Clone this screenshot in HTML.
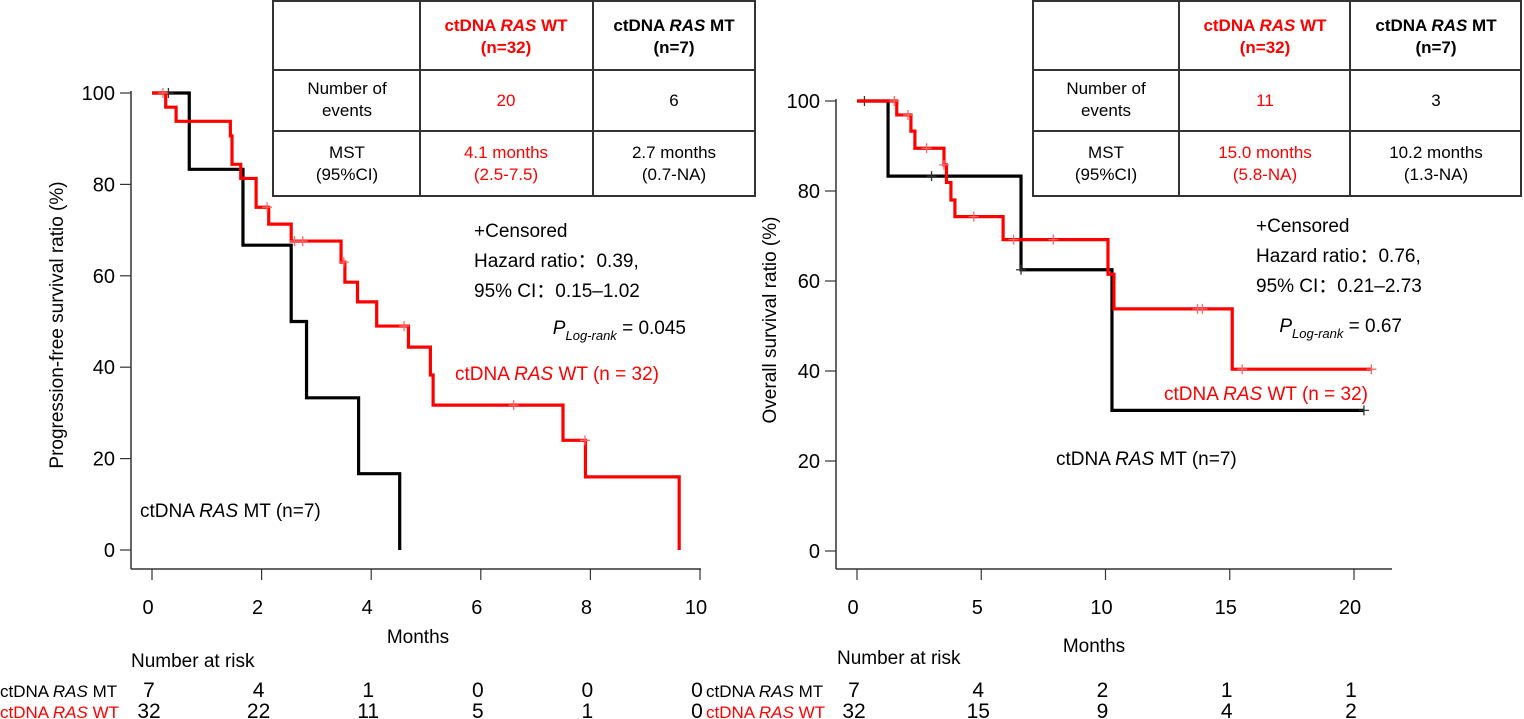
<!DOCTYPE html>
<html><head><meta charset="utf-8"><style>
html,body{margin:0;padding:0;background:#fff;}
svg{display:block;font-family:"Liberation Sans",Arial,sans-serif;}
</style></head><body>
<svg id="chart" width="1524" height="719" viewBox="0 0 1524 719">
<g id="left"></g>
<g id="right"></g>
</svg>
<script>
// ---- PFS panel data ----
const pfsXTicks = [0, 2, 4, 6, 8, 10];
const pfsYTicks = [0, 20, 40, 60, 80, 100];
const pfsWtTimes = [0.25, 0.44, 1.43, 1.46, 1.62, 1.9, 2.13, 2.54, 3.45, 3.52, 3.75, 4.1, 4.68, 5.08, 5.13, 7.5, 7.91, 9.62];
const pfsWtSurv = [96.9, 93.8, 90.6, 84.4, 81.3, 75, 71.3, 67.6, 63, 58.6, 54.3, 49, 44.4, 38.3, 31.7, 24, 16, 0];
const pfsWtEnd = 9.62;
const pfsWtCensor = [0.2, 2.1, 2.6, 2.75, 3.5, 4.6, 6.6, 7.9];
const pfsMtTimes = [0.68, 1.66, 2.54, 2.82, 3.77, 4.52];
const pfsMtSurv = [83.3, 66.7, 50, 33.3, 16.7, 0];
const pfsMtEnd = 4.52;
const pfsMtCensor = [0.3];
const pfsRiskMt = [7, 4, 1, 0, 0, 0];
const pfsRiskWt = [32, 22, 11, 5, 1, 0];
// ---- OS panel data ----
const osXTicks = [0, 5, 10, 15, 20];
const osYTicks = [0, 20, 40, 60, 80, 100];
const osWtTimes = [1.6, 2.17, 2.33, 3.5, 3.6, 3.78, 3.94, 5.88, 10.1, 10.34, 15.1];
const osWtSurv = [96.9, 93.3, 89.5, 85.8, 81.9, 78, 74.3, 69.2, 61.5, 53.8, 40.4];
const osWtEnd = 20.7;
const osWtCensor = [1.5, 2.05, 2.8, 3.5, 4.7, 6.3, 7.9, 13.7, 13.9, 15.5, 20.7];
const osMtTimes = [1.25, 6.6, 10.26];
const osMtSurv = [83.3, 62.5, 31.25];
const osMtEnd = 20.4;
const osMtCensor = [0.3, 3.0, 6.6, 20.4];
const osRiskMt = [7, 4, 2, 1, 1];
const osRiskWt = [32, 15, 9, 4, 2];

const NS = "http://www.w3.org/2000/svg";
function mk(parent, tag, attrs, text) {
  const e = document.createElementNS(NS, tag);
  for (const k in attrs) e.setAttribute(k, attrs[k]);
  if (text !== undefined) e.textContent = text;
  parent.appendChild(e);
  return e;
}
function survAt(times, surv, t) {
  let s = 100;
  for (let i = 0; i < times.length; i++) if (times[i] <= t) s = surv[i];
  return s;
}
function drawPanel(g, cfg) {
  const X = v => cfg.x0 + v * cfg.xs;
  const Y = v => cfg.y0 - v * cfg.ys;
  let a = mk(g, 'line', {x1: cfg.axL, y1: Y(100) - 2, x2: cfg.axL, y2: cfg.axB, stroke: '#333', 'stroke-width': 1.5});
   
  a = mk(g, 'line', {x1: cfg.axL, y1: cfg.axB, x2: cfg.axR, y2: cfg.axB, stroke: '#333', 'stroke-width': 1.5});
   
  cfg.yTicks.forEach(v => {
    const t = mk(g, 'line', {x1: cfg.axL - 11, y1: Y(v), x2: cfg.axL, y2: Y(v), stroke: '#333', 'stroke-width': 1.2});
     
    const l = mk(g, 'text', {x: cfg.axL - 16, y: Y(v) + 7, 'text-anchor': 'end', 'font-size': 20}, String(v));
     
  });
  cfg.xTicks.forEach(v => {
    const t = mk(g, 'line', {x1: X(v), y1: cfg.axB, x2: X(v), y2: cfg.axB + 11, stroke: '#333', 'stroke-width': 1.2});
     
    const l = mk(g, 'text', {x: X(v) - 4, y: 614, 'text-anchor': 'middle', 'font-size': 20}, String(v));
     
  });
  const curves = [
    {times: cfg.mtT, surv: cfg.mtS, end: cfg.mtE, cens: cfg.mtC, color: '#000', name: 'mt'},
    {times: cfg.wtT, surv: cfg.wtS, end: cfg.wtE, cens: cfg.wtC, color: '#ff0000', name: 'wt'}
  ];
  curves.forEach(c => {
    let d = 'M' + X(0) + ',' + Y(100);
    c.times.forEach((t, i) => { d += ' H' + X(t) + ' V' + Y(c.surv[i]); });
    d += ' H' + X(c.end);
    const p = mk(g, 'path', {d: d, fill: 'none', stroke: c.color, 'stroke-width': 3.2});
    
    
    c.cens.forEach(t => {
      const cy = Y(survAt(c.times, c.surv, t));
      const cx = X(t);
      const m = mk(g, 'path', {d: `M${cx - 5},${cy} H${cx + 5} M${cx},${cy - 5} V${cy + 5}`, stroke: c.color === '#000' ? '#333' : '#ff6666', 'stroke-width': 1.3});
      
      
    });
  });
  cfg.xTicks.forEach((v, i) => {
    const r1 = mk(g, 'text', {x: X(v) - 3, y: 697, 'text-anchor': 'middle', 'font-size': 21}, String(cfg.riskMt[i]));
     
    const r2 = mk(g, 'text', {x: X(v) - 3, y: 718, 'text-anchor': 'middle', 'font-size': 21, fill: '#000'}, String(cfg.riskWt[i]));
     
  });
}
drawPanel(document.getElementById('left'), {
  x0: 152, xs: 54.8, y0: 550, ys: 4.57, axL: 131, axR: 701, axB: 569,
  xTicks: pfsXTicks, yTicks: pfsYTicks,
  wtT: pfsWtTimes, wtS: pfsWtSurv, wtE: pfsWtEnd, wtC: pfsWtCensor,
  mtT: pfsMtTimes, mtS: pfsMtSurv, mtE: pfsMtEnd, mtC: pfsMtCensor,
  riskMt: pfsRiskMt, riskWt: pfsRiskWt
});
drawPanel(document.getElementById('right'), {
  x0: 857, xs: 24.85, y0: 551, ys: 4.5, axL: 836, axR: 1392, axB: 569,
  xTicks: osXTicks, yTicks: osYTicks,
  wtT: osWtTimes, wtS: osWtSurv, wtE: osWtEnd, wtC: osWtCensor,
  mtT: osMtTimes, mtS: osMtSurv, mtE: osMtEnd, mtC: osMtCensor,
  riskMt: osRiskMt, riskWt: osRiskWt
});
</script>
<svg style="position:absolute;left:0;top:0" width="1524" height="719" font-family="Liberation Sans, Arial, sans-serif">
  <g stroke="#333" stroke-width="2" fill="none">
    <rect x="273" y="1" width="482" height="195"/>
    <line x1="273" y1="70" x2="755" y2="70"/>
    <line x1="273" y1="131" x2="755" y2="131"/>
    <line x1="420" y1="1" x2="420" y2="196"/>
    <line x1="593" y1="1" x2="593" y2="196"/>
  </g>
  <g font-size="17" text-anchor="middle">
    <text x="506" y="31" fill="#ff0000" font-weight="bold">ctDNA <tspan font-style="italic">RAS</tspan> WT</text>
    <text x="506" y="53" fill="#ff0000" font-weight="bold">(n=32)</text>
    <text x="674" y="31" font-weight="bold">ctDNA <tspan font-style="italic">RAS</tspan> MT</text>
    <text x="674" y="53" font-weight="bold">(n=7)</text>
    <text x="347" y="94">Number of</text><text x="347" y="116">events</text>
    <text x="506" y="106" fill="#ff0000">20</text>
    <text x="674" y="106">6</text>
    <text x="347" y="158">MST</text><text x="347" y="180">(95%CI)</text>
    <text x="506" y="158" fill="#ff0000">4.1 months</text><text x="506" y="180" fill="#ff0000">(2.5-7.5)</text>
    <text x="674" y="158">2.7 months</text><text x="674" y="180">(0.7-NA)</text>
  </g>
  <g stroke="#333" stroke-width="2" fill="none">
    <rect x="1033" y="1" width="488" height="195"/>
    <line x1="1033" y1="70" x2="1521" y2="70"/>
    <line x1="1033" y1="131" x2="1521" y2="131"/>
    <line x1="1179" y1="1" x2="1179" y2="196"/>
    <line x1="1350" y1="1" x2="1350" y2="196"/>
  </g>
  <g font-size="17" text-anchor="middle">
    <text x="1265" y="31" fill="#ff0000" font-weight="bold">ctDNA <tspan font-style="italic">RAS</tspan> WT</text>
    <text x="1265" y="53" fill="#ff0000" font-weight="bold">(n=32)</text>
    <text x="1436" y="31" font-weight="bold">ctDNA <tspan font-style="italic">RAS</tspan> MT</text>
    <text x="1436" y="53" font-weight="bold">(n=7)</text>
    <text x="1106" y="94">Number of</text><text x="1106" y="116">events</text>
    <text x="1265" y="106" fill="#ff0000">11</text>
    <text x="1436" y="106">3</text>
    <text x="1106" y="158">MST</text><text x="1106" y="180">(95%CI)</text>
    <text x="1265" y="158" fill="#ff0000">15.0 months</text><text x="1265" y="180" fill="#ff0000">(5.8-NA)</text>
    <text x="1436" y="158">10.2 months</text><text x="1436" y="180">(1.3-NA)</text>
  </g>
  <g font-size="19">
    <text x="474" y="237">+Censored</text>
    <text x="474" y="267">Hazard ratio：0.39,</text>
    <text x="474" y="297">95% CI：0.15–1.02</text>
    <text x="686" y="334" text-anchor="end"><tspan font-style="italic">P</tspan><tspan font-style="italic" font-size="13" dy="6">Log-rank</tspan><tspan dy="-6"> = 0.045</tspan></text>
  </g>
  <text x="455" y="380" font-size="19" fill="#ff0000">ctDNA <tspan font-style="italic">RAS</tspan> WT (n = 32)</text>
  <text x="140" y="517" font-size="19">ctDNA <tspan font-style="italic">RAS</tspan> MT (n=7)</text>
  <text transform="translate(63,325) rotate(-90)" text-anchor="middle" font-size="19">Progression-free survival ratio (%)</text>
  <text x="418" y="643" text-anchor="middle" font-size="19">Months</text>
  <text x="131" y="667" font-size="19">Number at risk</text>
  <text x="0" y="697" font-size="17">ctDNA <tspan font-style="italic">RAS</tspan> MT</text>
  <text x="0" y="718" font-size="17" fill="#ff0000">ctDNA <tspan font-style="italic">RAS</tspan> WT</text>
  <g font-size="19">
    <text x="1256" y="232">+Censored</text>
    <text x="1256" y="262">Hazard ratio：0.76,</text>
    <text x="1256" y="292">95% CI：0.21–2.73</text>
    <text x="1402" y="332" text-anchor="end"><tspan font-style="italic">P</tspan><tspan font-style="italic" font-size="13" dy="6">Log-rank</tspan><tspan dy="-6"> = 0.67</tspan></text>
  </g>
  <text x="1164" y="400" font-size="19" fill="#ff0000">ctDNA <tspan font-style="italic">RAS</tspan> WT (n = 32)</text>
  <text x="1056" y="465" font-size="19">ctDNA <tspan font-style="italic">RAS</tspan> MT (n=7)</text>
  <text transform="translate(776,320) rotate(-90)" text-anchor="middle" font-size="19">Overall survival ratio (%)</text>
  <text x="1094" y="652" text-anchor="middle" font-size="19">Months</text>
  <text x="837" y="664" font-size="19">Number at risk</text>
  <text x="706" y="697" font-size="17">ctDNA <tspan font-style="italic">RAS</tspan> MT</text>
  <text x="706" y="718" font-size="17" fill="#ff0000">ctDNA <tspan font-style="italic">RAS</tspan> WT</text>
</svg>
</body></html>
